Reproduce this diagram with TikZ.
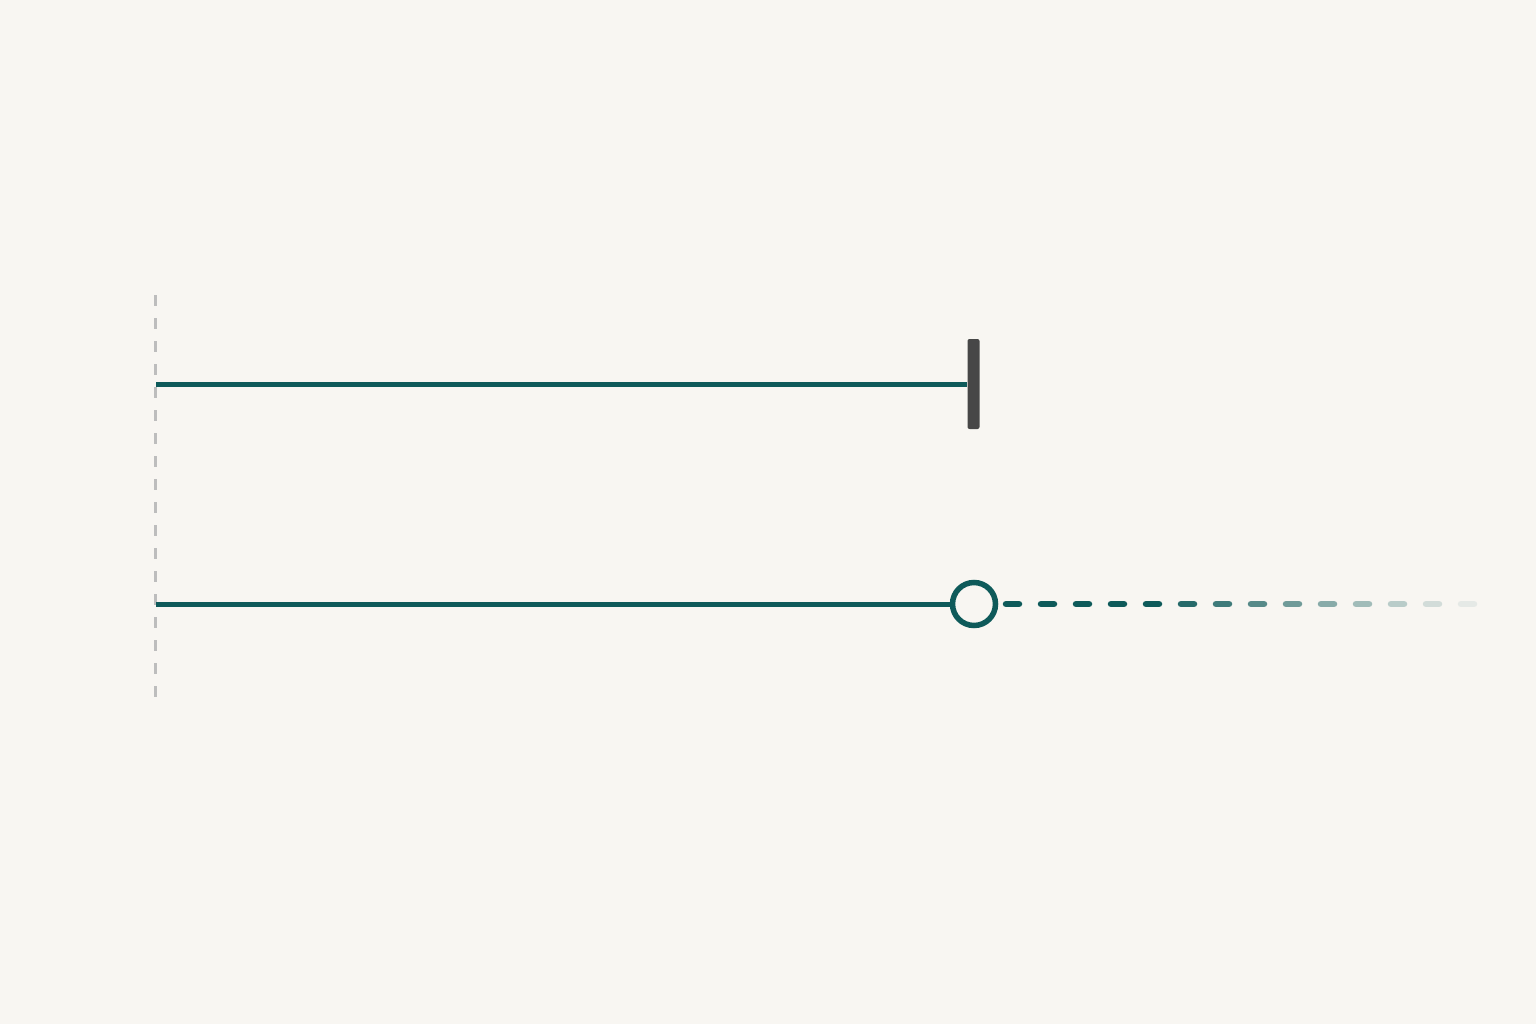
\documentclass[tikz,border=0pt]{standalone}
\definecolor{bgc}{HTML}{F8F6F2}
\definecolor{tealc}{HTML}{0E5A5A}
\definecolor{barc}{HTML}{474747}
\definecolor{guidec}{HTML}{BDBDBD}
\begin{document}
\begin{tikzpicture}[x=1pt,y=-1pt,
  mainline/.style={draw=tealc,line width=5pt},
  guideline/.style={draw=guidec,line width=3pt,dash pattern=on 11pt off 12pt},
  stopbar/.style={rectangle,fill=barc,minimum width=12pt,minimum height=90pt,inner sep=0pt,rounded corners=2pt},
  opencirc/.style={circle,draw=tealc,line width=5.5pt,fill=bgc,minimum size=43pt,inner sep=0pt},
  fadedash/.style={line width=6.5pt,line cap=round,draw=tealc}]
\fill[bgc] (0,0) rectangle (1536,1024);
\useasboundingbox (0,0) rectangle (1536,1024);
% guide
\coordinate (gtop) at (155,295);
\coordinate (gbot) at (155,697);
\draw[guideline] (gtop) -- (gbot);
% top row
\coordinate (s1) at (156,384);
\node[stopbar] (bar) at (973.5,384) {};
\draw[mainline] (s1) -- (bar.west);
% bottom row
\coordinate (s2) at (156,604);
\node[opencirc] (circ) at (974,604) {};
\draw[mainline] (s2) -- (circ.west);
\foreach \i in {0,...,13}{
  \pgfmathsetmacro{\op}{\i<5 ? 1 : max(0.08,1-(\i-4)*0.105)}
  \coordinate (d\i a) at ({1006+35*\i},604);
  \coordinate (d\i b) at ({1019+35*\i},604);
  \draw[fadedash,draw opacity=\op] (d\i a) -- (d\i b);
}
\end{tikzpicture}
\end{document}
